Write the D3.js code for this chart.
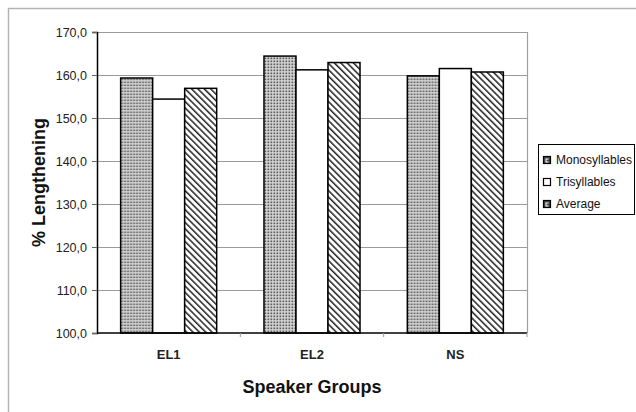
<!DOCTYPE html>
<html><head><meta charset="utf-8">
<script src="https://cdn.jsdelivr.net/npm/d3@7"></script>
<style>html,body{margin:0;padding:0;background:#fff;}svg{display:block;font-family:"Liberation Sans",Arial,sans-serif;}</style>
</head><body>
<svg id="c" width="636" height="412"></svg>
<script>
const categories = ["EL1", "EL2", "NS"];
const seriesNames = ["Monosyllables", "Trisyllables", "Average"];
const monosyllables = [159.3, 164.4, 159.8];
const trisyllables = [154.4, 161.2, 161.5];
const average = [156.9, 162.9, 160.7];
const yTicks = [100, 110, 120, 130, 140, 150, 160, 170];
const yTickLabels = ["100,0", "110,0", "120,0", "130,0", "140,0", "150,0", "160,0", "170,0"];
const seriesValues = [monosyllables, trisyllables, average];

const svg = d3.select("#c");
const defs = svg.append("defs");
// dotted pattern
const pd = defs.append("pattern").attr("id","dots").attr("patternUnits","userSpaceOnUse")
  .attr("width",3).attr("height",3);
pd.append("rect").attr("width",3).attr("height",3).attr("fill","#d8d8d8");
pd.append("rect").attr("x",0.5).attr("y",0.5).attr("width",1.7).attr("height",1.7).attr("fill","#5a5a5a");
// diagonal stripes (backslash)
const ps = defs.append("pattern").attr("id","diag").attr("patternUnits","userSpaceOnUse")
  .attr("width",4.5).attr("height",4.5).attr("patternTransform","rotate(-45)");
ps.append("rect").attr("width",4.5).attr("height",4.5).attr("fill","#fff");
ps.append("rect").attr("x",0).attr("y",0).attr("width",1.5).attr("height",4.5).attr("fill","#222");
const fills = ["url(#dots)", "#fff", "url(#diag)"];

// outer frame
svg.append("rect").attr("x",8.5).attr("y",8.5).attr("width",700).attr("height",500)
  .attr("fill","none").attr("stroke","#b4b4b4").attr("stroke-width",1.5);

const L = 97, R = 527, T = 32, B = 333;
const y = d3.scaleLinear().domain([100,170]).range([B,T]);
const x = d3.scaleBand().domain(categories).range([L,R]).paddingInner(0.33).paddingOuter(0.165);
const xs = d3.scaleBand().domain(seriesNames).range([0,x.bandwidth()]);

// plot border (gray top/right)
svg.append("path").attr("d",`M${L},${T+0.5}H${R+0.5}V${B}`).attr("fill","none")
  .attr("stroke","#a0a0a0").attr("stroke-width",1.2);

// gridlines
svg.append("g").selectAll("line").data(yTicks.slice(1)).join("line")
  .attr("x1",L).attr("x2",R).attr("y1",d=>Math.round(y(d))+0.5).attr("y2",d=>Math.round(y(d))+0.5)
  .attr("stroke","#9a9a9a").attr("stroke-width",1);

// y axis
const yAxis = d3.axisLeft(y).tickValues(yTicks).tickSize(5).tickPadding(5)
  .tickFormat((d,i)=>yTickLabels[i]);
const gy = svg.append("g").attr("transform",`translate(${L},0)`).call(yAxis);
gy.select(".domain").attr("stroke","#000").attr("stroke-width",1.5);
gy.selectAll(".tick line").attr("stroke","#666");
gy.selectAll(".tick text").attr("font-size",12.5).attr("fill","#222")
  .attr("font-family","'Liberation Sans',Arial,sans-serif");

// bars
const groups = svg.append("g").selectAll("g").data(categories).join("g")
  .attr("transform",d=>`translate(${x(d)},0)`);
groups.selectAll("rect").data((c,ci)=>seriesNames.map((s,si)=>({s,si,v:seriesValues[si][ci]})))
  .join("rect")
  .attr("x",d=>xs(d.s)).attr("width",xs.bandwidth())
  .attr("y",d=>y(d.v)).attr("height",d=>B-y(d.v))
  .attr("fill",d=>fills[d.si]).attr("stroke","#000").attr("stroke-width",1.5);

// x axis
const xAxis = d3.axisBottom(x).tickSize(0).tickPadding(17);
const gx = svg.append("g").attr("transform",`translate(0,${B})`).call(xAxis);
gx.select(".domain").remove();
gx.selectAll(".tick text").attr("font-size",13).attr("font-weight","bold").attr("fill","#222")
  .attr("font-family","'Liberation Sans',Arial,sans-serif");
svg.append("line").attr("x1",L).attr("x2",R).attr("y1",B).attr("y2",B).attr("stroke","#000").attr("stroke-width",1.5);
// category boundary ticks
const bounds = [x(categories[1]) - x.step()*x.paddingInner()/2, x(categories[2]) - x.step()*x.paddingInner()/2, R];
svg.append("g").selectAll("line").data(bounds).join("line")
  .attr("x1",d=>d).attr("x2",d=>d).attr("y1",B).attr("y2",B+4).attr("stroke","#999");

// axis titles
svg.append("text").attr("x",(L+R)/2).attr("y",393).attr("text-anchor","middle")
  .attr("font-size",18).attr("font-weight","bold").attr("fill","#111").text("Speaker Groups");
svg.append("text").attr("transform",`translate(45,${(T+B)/2}) rotate(-90)`).attr("text-anchor","middle")
  .attr("font-size",18).attr("font-weight","bold").attr("fill","#111").text("% Lengthening");

// legend
const lg = svg.append("g");
lg.append("rect").attr("x",538.5).attr("y",144.5).attr("width",96).attr("height",70)
  .attr("fill","#fff").attr("stroke","#000").attr("stroke-width",1);
const rows = lg.selectAll("g").data(seriesNames).join("g")
  .attr("transform",(d,i)=>`translate(0,${160 + i*22})`);
rows.append("rect").attr("x",543.5).attr("y",-3.5).attr("width",7).attr("height",7)
  .attr("fill",(d,i)=>i===1?"#fff":"#444").attr("stroke","#000").attr("stroke-width",1.2);
rows.filter((d,i)=>i!==1).append("path").attr("d","M545.5,-1.5h3v1h-2v2h2v1h-3z").attr("fill","#fff");
rows.append("text").attr("x",556).attr("y",0).attr("dy","0.35em").attr("font-size",12)
  .attr("fill","#111").text(d=>d);
</script>
</body></html>
